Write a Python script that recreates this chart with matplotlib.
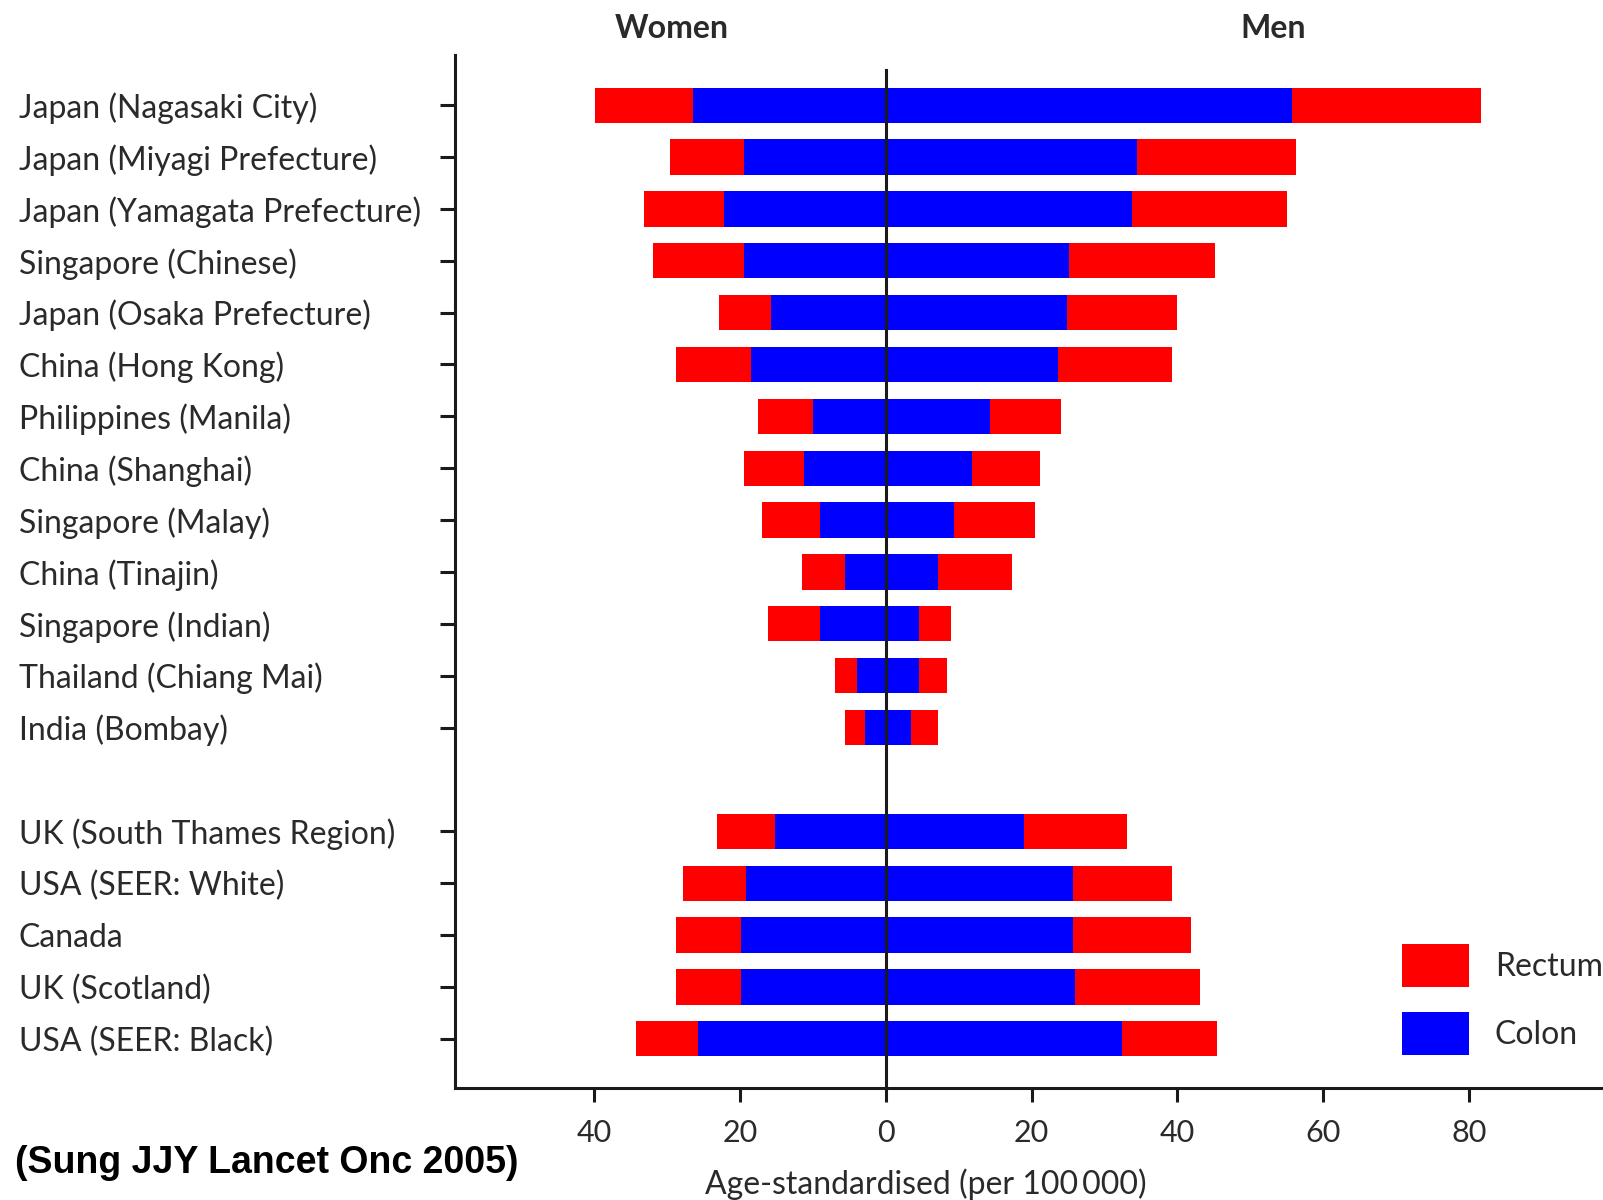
import numpy as np
import matplotlib.pyplot as plt
from matplotlib.patches import Patch

# registries, top to bottom (empty slot between Asian and Western groups)
labels = ['Japan (Nagasaki City)', 'Japan (Miyagi Prefecture)', 'Japan (Yamagata Prefecture)',
          'Singapore (Chinese)', 'Japan (Osaka Prefecture)', 'China (Hong Kong)',
          'Philippines (Manila)', 'China (Shanghai)', 'Singapore (Malay)', 'China (Tinajin)',
          'Singapore (Indian)', 'Thailand (Chiang Mai)', 'India (Bombay)',
          'UK (South Thames Region)', 'USA (SEER: White)', 'Canada', 'UK (Scotland)',
          'USA (SEER: Black)']

women_colon = [26.5, 19.4, 22.2, 19.4, 15.7, 18.5, 10.0, 11.2, 9.0, 5.6, 9.0, 3.9, 2.8,
               15.2, 19.2, 19.8, 19.8, 25.7]
women_rectum = [13.4, 10.2, 10.9, 12.5, 7.2, 10.3, 7.5, 8.3, 8.0, 5.9, 7.1, 3.0, 2.8,
                8.0, 8.6, 9.0, 9.0, 8.5]
men_colon = [55.7, 34.4, 33.8, 25.1, 24.8, 23.6, 14.3, 11.8, 9.3, 7.2, 4.6, 4.6, 3.5,
             18.9, 25.7, 25.7, 26.0, 32.4]
men_rectum = [26.0, 21.9, 21.2, 20.1, 15.2, 15.7, 9.8, 9.3, 11.2, 10.1, 4.4, 3.8, 3.7,
              14.2, 13.6, 16.1, 17.1, 13.1]

xticks = [-40, -20, 0, 20, 40, 60, 80]
xticklabels = ['40', '20', '0', '20', '40', '60', '80']

plt.rcParams['font.family'] = ['Lato', 'DejaVu Sans']
txt = '#2a2a2a'
red = '#ff0000'
blue = '#0000ff'

ypos = np.array(list(range(13)) + list(range(14, 19)))
wc = np.array(women_colon)
wr = np.array(women_rectum)
mc = np.array(men_colon)
mr = np.array(men_rectum)

fig = plt.figure(figsize=(16.03, 12), dpi=100)
ax = fig.add_axes([0.2838, 0.0933, 0.7172, 0.861])

h = 0.68
ax.barh(ypos, -wc, height=h, color=blue, zorder=2)
ax.barh(ypos, -wr, left=-wc, height=h, color=red, zorder=2)
ax.barh(ypos, mc, height=h, color=blue, zorder=2)
ax.barh(ypos, mr, left=mc, height=h, color=red, zorder=2)

ax.plot([0, 0], [-0.68, 18.95], color='#1a1a1a', lw=2.2, zorder=3)

ax.set_xlim(-59.1, 98.6)
ax.set_ylim(18.95, -0.97)

for s in ['top', 'right']:
    ax.spines[s].set_visible(False)
for s in ['left', 'bottom']:
    ax.spines[s].set_linewidth(2.2)
    ax.spines[s].set_color('#1a1a1a')

ax.set_yticks(ypos)
ax.set_yticklabels(labels, ha='left', fontsize=23, color=txt)
ax.tick_params(axis='y', length=11, width=2.2, color='#1a1a1a', pad=303)
ax.set_xticks(xticks)
ax.set_xticklabels(xticklabels, fontsize=22, color=txt)
ax.tick_params(axis='x', length=10, width=2.2, color='#1a1a1a', pad=12)

fig.text(672 / 1603, 1 - 28 / 1200, 'Women', fontsize=23, fontweight='bold',
         color=txt, ha='center', va='center')
fig.text(1273 / 1603, 1 - 28 / 1200, 'Men', fontsize=23, fontweight='bold',
         color=txt, ha='center', va='center')
fig.text(926 / 1603, 1 - 1184 / 1200, 'Age-standardised (per 100\u2009000)', fontsize=23,
         color=txt, ha='center', va='center')
fig.text(15 / 1603, 1 - 1163 / 1200, '(Sung JJY Lancet Onc 2005)', fontsize=27,
         fontweight='bold', family='Liberation Sans', color='black', ha='left', va='center')

handles = [Patch(facecolor=red, label='Rectum'), Patch(facecolor=blue, label='Colon')]
fig.legend(handles=handles, loc='upper left', bbox_to_anchor=(1402 / 1603, 1 - 944 / 1200),
           frameon=False, fontsize=23, handlelength=2.1, handleheight=1.7,
           labelspacing=0.78, handletextpad=0.8, borderpad=0, borderaxespad=0,
           labelcolor=txt)

fig.savefig('out.png', dpi=100)
